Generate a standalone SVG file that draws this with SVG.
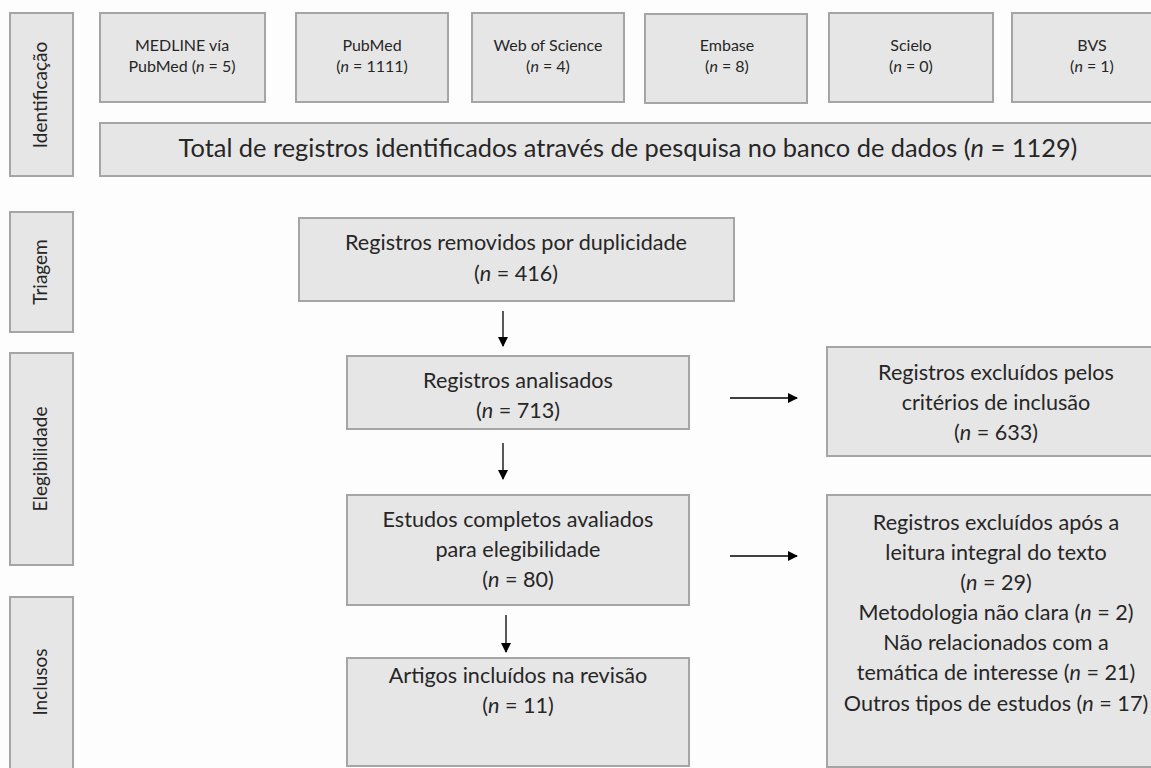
<svg xmlns="http://www.w3.org/2000/svg" width="1151" height="768" viewBox="0 0 1151 768">
<defs>
<style>
.box{fill:#e7e6e6;stroke:#a5a5a5;stroke-width:2}
.t{font-family:Lato,"Liberation Sans",sans-serif;fill:#262626;text-anchor:middle}
.s{font-size:16px}
.m{font-size:21.6px}
.b{font-size:25.4px}
.p{font-size:19px}
.i{font-style:italic}
.c{stroke:#000;stroke-width:1.3;fill:none;marker-end:url(#ah)}
</style>
<marker id="ah" viewBox="0 0 10 10" refX="9" refY="5" markerWidth="10" markerHeight="10" markerUnits="userSpaceOnUse" orient="auto">
<path d="M0,0 L10,5 L0,10 z" fill="#000"/>
</marker>
</defs>
<rect width="1151" height="768" fill="#fdfdfd"/>

<g id="phase-identificacao"><rect class="box" x="10" y="13" width="63" height="163"/><text class="t p" transform="translate(47,95) rotate(-90)">Identificação</text></g>
<g id="phase-triagem"><rect class="box" x="10" y="212" width="63" height="120"/><text class="t p" transform="translate(47,272) rotate(-90)">Triagem</text></g>
<g id="phase-elegibilidade"><rect class="box" x="10" y="353" width="63" height="212"/><text class="t p" transform="translate(47,459) rotate(-90)">Elegibilidade</text></g>
<g id="phase-inclusos"><rect class="box" x="10" y="597" width="63" height="180"/><text class="t p" transform="translate(47,682) rotate(-90)">Inclusos</text></g>

<g id="src-medline"><rect class="box" x="100" y="13" width="165" height="89"/><text class="t s" x="182" y="51">MEDLINE vía</text><text class="t s" x="182" y="72">PubMed (<tspan class="i">n</tspan> = 5)</text></g>
<g id="src-pubmed"><rect class="box" x="296" y="13" width="152" height="89"/><text class="t s" x="372" y="51">PubMed</text><text class="t s" x="372" y="72">(<tspan class="i">n</tspan> = 1111)</text></g>
<g id="src-wos"><rect class="box" x="472" y="13" width="152" height="89"/><text class="t s" x="548" y="51">Web of Science</text><text class="t s" x="548" y="72">(<tspan class="i">n</tspan> = 4)</text></g>
<g id="src-embase"><rect class="box" x="645" y="14" width="162" height="89"/><text class="t s" x="727" y="51">Embase</text><text class="t s" x="727" y="72">(<tspan class="i">n</tspan> = 8)</text></g>
<g id="src-scielo"><rect class="box" x="829" y="13" width="164" height="89"/><text class="t s" x="911" y="51">Scielo</text><text class="t s" x="911" y="72">(<tspan class="i">n</tspan> = 0)</text></g>
<g id="src-bvs"><rect class="box" x="1012" y="13" width="160" height="89"/><text class="t s" x="1092" y="51">BVS</text><text class="t s" x="1092" y="72">(<tspan class="i">n</tspan> = 1)</text></g>

<g id="total"><rect class="box" x="100" y="123" width="1070" height="53"/><text class="t b" x="628" y="157">Total de registros identificados através de pesquisa no banco de dados (<tspan class="i">n</tspan> = 1129)</text></g>

<g id="duplicados"><rect class="box" x="299" y="218" width="435" height="83"/><text class="t m" x="516" y="250">Registros removidos por duplicidade</text><text class="t m" x="516" y="281">(<tspan class="i">n</tspan> = 416)</text></g>
<g id="analisados"><rect class="box" x="347" y="356" width="342" height="73"/><text class="t m" x="518" y="388">Registros analisados</text><text class="t m" x="518" y="418">(<tspan class="i">n</tspan> = 713)</text></g>
<g id="completos"><rect class="box" x="347" y="495" width="342" height="110"/><text class="t m" x="518" y="527">Estudos completos avaliados</text><text class="t m" x="518" y="557">para elegibilidade</text><text class="t m" x="518" y="587">(<tspan class="i">n</tspan> = 80)</text></g>
<g id="incluidos"><rect class="box" x="347" y="658" width="342" height="108"/><text class="t m" x="518" y="683">Artigos incluídos na revisão</text><text class="t m" x="518" y="713">(<tspan class="i">n</tspan> = 11)</text></g>

<g id="excluidos-criterios"><rect class="box" x="827" y="347" width="340" height="109"/><text class="t m" x="996" y="380">Registros excluídos pelos</text><text class="t m" x="996" y="410">critérios de inclusão</text><text class="t m" x="996" y="440">(<tspan class="i">n</tspan> = 633)</text></g>
<g id="excluidos-leitura"><rect class="box" x="827" y="495" width="340" height="272"/>
<text class="t m" x="996" y="530">Registros excluídos após a</text>
<text class="t m" x="996" y="560">leitura integral do texto</text>
<text class="t m" x="996" y="590">(<tspan class="i">n</tspan> = 29)</text>
<text class="t m" x="996" y="620">Metodologia não clara (<tspan class="i">n</tspan> = 2)</text>
<text class="t m" x="996" y="650">Não relacionados com a</text>
<text class="t m" x="996" y="680">temática de interesse (<tspan class="i">n</tspan> = 21)</text>
<text class="t m" x="996" y="711">Outros tipos de estudos (<tspan class="i">n</tspan> = 17)</text>
</g>

<g id="connectors">
<line class="c" x1="503" y1="311" x2="503" y2="346"/>
<line class="c" x1="503" y1="443" x2="503" y2="479"/>
<line class="c" x1="506" y1="615" x2="506" y2="652"/>
<line class="c" x1="730" y1="398" x2="797" y2="398"/>
<line class="c" x1="730" y1="556" x2="797" y2="556"/>
</g>
</svg>
